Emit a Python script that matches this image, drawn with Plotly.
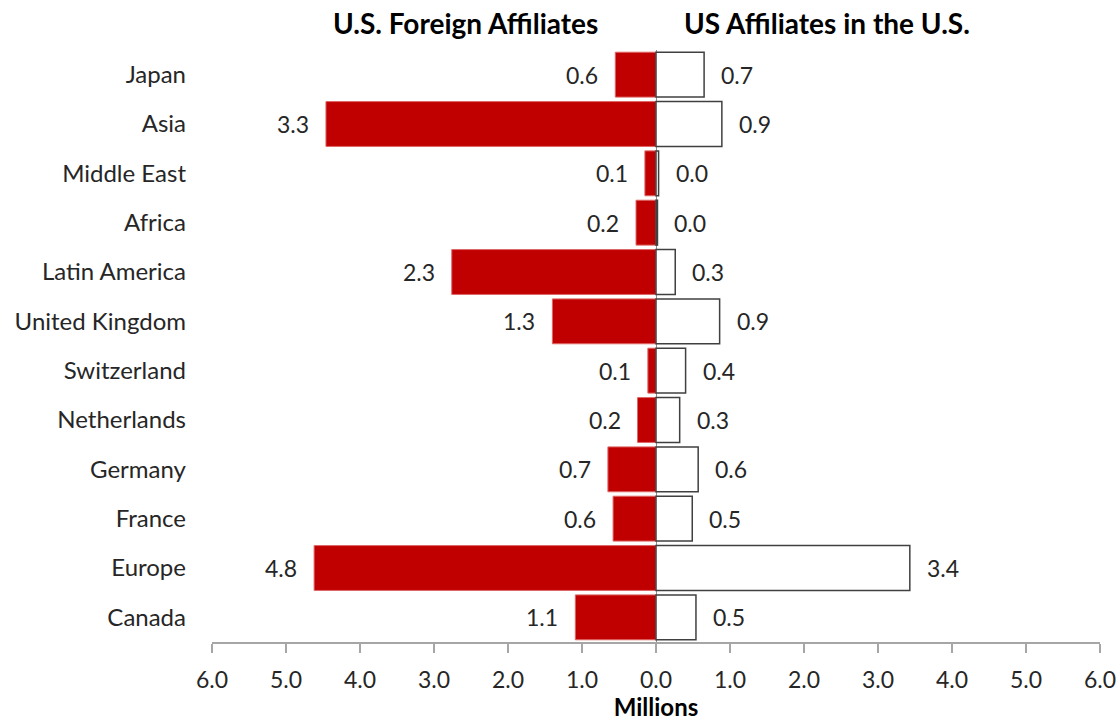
import plotly.graph_objects as go

categories = ["Japan", "Asia", "Middle East", "Africa", "Latin America", "United Kingdom",
              "Switzerland", "Netherlands", "Germany", "France", "Europe", "Canada"]
foreign_bar = [0.55, 4.46, 0.15, 0.27, 2.76, 1.40, 0.11, 0.25, 0.65, 0.58, 4.62, 1.09]
foreign_label = ["0.6", "3.3", "0.1", "0.2", "2.3", "1.3", "0.1", "0.2", "0.7", "0.6", "4.8", "1.1"]
us_bar = [0.65, 0.89, 0.035, 0.02, 0.26, 0.86, 0.40, 0.32, 0.57, 0.49, 3.43, 0.54]
us_label = ["0.7", "0.9", "0.0", "0.0", "0.3", "0.9", "0.4", "0.3", "0.6", "0.5", "3.4", "0.5"]
tick_vals = [-6, -5, -4, -3, -2, -1, 0, 1, 2, 3, 4, 5, 6]
tick_text = ["6.0", "5.0", "4.0", "3.0", "2.0", "1.0", "0.0", "1.0", "2.0", "3.0", "4.0", "5.0", "6.0"]
headers = ["U.S. Foreign Affiliates", "US Affiliates in the U.S."]
header_x = [-2.58, 2.31]

FONT = "Lato"
TXT = "#262626"
NUM_SIZE = 23

fig = go.Figure()
fig.add_trace(go.Bar(
    y=categories, x=[-v for v in foreign_bar], orientation="h",
    marker=dict(color="#C00000", line=dict(color="#E06666", width=1)),
    name=headers[0], hoverinfo="skip"))
fig.add_trace(go.Bar(
    y=categories, x=us_bar, orientation="h",
    marker=dict(color="#FFFFFF", line=dict(color="#404040", width=1.5)),
    name=headers[1], hoverinfo="skip"))

annotations = []
for c, v, t in zip(categories, foreign_bar, foreign_label):
    annotations.append(dict(x=-v, y=c, xref="x", yref="y", text=t, showarrow=False,
                            xanchor="right", xshift=-15, font=dict(family=FONT, size=NUM_SIZE, color=TXT)))
for c, v, t in zip(categories, us_bar, us_label):
    annotations.append(dict(x=v, y=c, xref="x", yref="y", text=t, showarrow=False,
                            xanchor="left", xshift=15, font=dict(family=FONT, size=NUM_SIZE, color=TXT)))
for hx, ht in zip(header_x, headers):
    annotations.append(dict(x=hx, y=1.0, xref="x", yref="paper", yanchor="middle", yshift=27,
                            text="<b>" + ht + "</b>", showarrow=False,
                            font=dict(family=FONT, size=28, color="#000000")))

fig.update_layout(
    width=1120, height=721,
    margin=dict(l=212, r=20, t=50, b=79, autoexpand=False),
    paper_bgcolor="white", plot_bgcolor="white",
    barmode="overlay", bargap=0.09, showlegend=False,
    font=dict(family=FONT, size=NUM_SIZE, color=TXT),
    annotations=annotations,
    xaxis=dict(range=[-6, 6], tickvals=tick_vals, ticktext=tick_text, automargin=False,
               showgrid=False, zeroline=True, zerolinecolor="#8C8C8C", zerolinewidth=1,
               showline=True, linecolor="#A6A6A6", linewidth=1.5,
               ticks="outside", ticklen=9, tickcolor="#A6A6A6", tickwidth=1.5,
               ticklabelstandoff=8,
               tickfont=dict(family=FONT, size=NUM_SIZE, color=TXT),
               title=dict(text="<b>Millions</b>", font=dict(family=FONT, size=24, color="#000000"), standoff=11)),
    yaxis=dict(categoryorder="array", categoryarray=categories[::-1], automargin=False,
               showgrid=False, showline=False, ticks="", ticklabelstandoff=25,
               tickfont=dict(family=FONT, size=24, color=TXT)),
)

fig.write_html("out.html", config={"displayModeBar": False, "staticPlot": True},
               post_script="document.body.style.margin='0';document.body.style.overflow='hidden';")
